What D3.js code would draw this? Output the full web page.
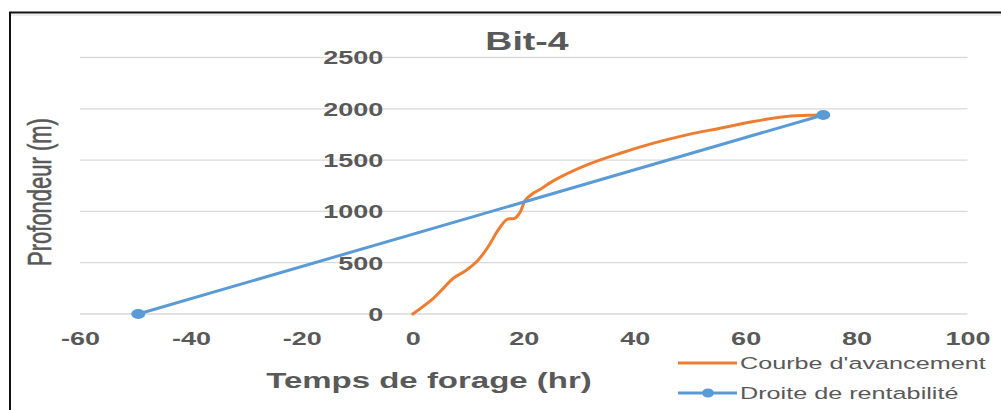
<!DOCTYPE html>
<html>
<head>
<meta charset="utf-8">
<script src="https://cdn.jsdelivr.net/npm/d3@7"></script>
<style>
  html, body { margin: 0; padding: 0; background: #fff; }
  svg { display: block; }
  text { font-family: "Liberation Sans", Arial, sans-serif; fill: #595959; }
</style>
</head>
<body>
<svg id="chart" width="1001" height="410"></svg>
<script>
// Courbe d'avancement (temps de forage, profondeur)
const curveHours = [0, 3.7, 5.5, 7.3, 9.7, 11.8, 13.6, 15.4, 17.0, 18.4, 19.4, 20.3, 21.7, 23.0, 25.4, 31.4, 37.4, 43.4, 49.4, 55.4, 61.4, 67.4, 72.2, 74.0];
const curveDepth = [0, 153, 250, 348, 429, 527, 657, 819, 924, 933, 998, 1112, 1177, 1216, 1300, 1453, 1567, 1665, 1746, 1811, 1876, 1925, 1938, 1940];

// Droite de rentabilité
const lineHours = [-49.5, 74.0];
const lineDepth = [0, 1940];

// Axis ticks
const xTicks = [-60, -40, -20, 0, 20, 40, 60, 80, 100];
const yTicks = [0, 500, 1000, 1500, 2000, 2500];

const seriesNames = ["Courbe d'avancement", "Droite de rentabilité"];
const titleText = "Bit-4";
const xTitle = "Temps de forage (hr)";
const yTitle = "Profondeur (m)";

const ORANGE = "#ED7D31";
const BLUE = "#5B9BD5";
const GRID = "#D9D9D9";
const SX = 1.5; // wide letterforms

const svg = d3.select("#chart");

const x = d3.scaleLinear().domain([-60, 100]).range([80, 967.5]);
const y = d3.scaleLinear().domain([0, 2500]).range([314, 57.5]);

// outer frame
svg.append("rect")
  .attr("x", 10).attr("y", 12.5)
  .attr("width", 1100).attr("height", 500)
  .attr("fill", "none").attr("stroke", "#111").attr("stroke-width", 2);
svg.append("line")
  .attr("x1", 11).attr("x2", 1001).attr("y1", 15).attr("y2", 15)
  .attr("stroke", "#ddd").attr("stroke-width", 1.2);

// horizontal gridlines
svg.append("g")
  .selectAll("line")
  .data(yTicks)
  .join("line")
  .attr("x1", x(-60)).attr("x2", x(100))
  .attr("y1", d => y(d)).attr("y2", d => y(d))
  .attr("stroke", GRID).attr("stroke-width", 1.3);

// wide text helper
function wideText(parent, str, px, py, opts = {}) {
  return parent.append("text")
    .attr("transform", `translate(${px},${py}) scale(${SX},1)`)
    .attr("text-anchor", opts.anchor || "start")
    .style("font-size", (opts.size || 16) + "px")
    .style("font-weight", opts.weight || "normal")
    .text(str);
}

const plainNumber = d => String(d);

// x axis labels
const xAxis = d3.axisBottom(x).tickValues(xTicks).tickSize(0).tickPadding(0).tickFormat(plainNumber);
const gx = svg.append("g").attr("transform", `translate(0,${y(0)})`).call(xAxis);
gx.select(".domain").remove();
gx.selectAll("text")
  .attr("y", 31.5).attr("dy", null)
  .attr("transform", `scale(${SX},1)`)
  .attr("fill", "#595959")
  .style("font-family", "Liberation Sans, Arial, sans-serif")
  .style("font-size", "18px").style("font-weight", "bold");

// y axis labels, placed beside x = 0
const yAxis = d3.axisLeft(y).tickValues(yTicks).tickSize(0).tickPadding(0).tickFormat(plainNumber);
const gy = svg.append("g").attr("transform", `translate(${x(0)},0)`).call(yAxis);
gy.select(".domain").remove();
gy.selectAll("text")
  .attr("x", -29.5 / SX).attr("dy", "0.35em")
  .attr("transform", `scale(${SX},1)`)
  .attr("fill", "#595959")
  .style("font-family", "Liberation Sans, Arial, sans-serif")
  .style("font-size", "18px").style("font-weight", "bold");

// series
const curveData = curveHours.map((h, i) => [h, curveDepth[i]]);
const lineData = lineHours.map((h, i) => [h, lineDepth[i]]);

svg.append("path")
  .datum(curveData)
  .attr("fill", "none").attr("stroke", ORANGE).attr("stroke-width", 3)
  .attr("stroke-linejoin", "round").attr("stroke-linecap", "round")
  .attr("d", d3.line().x(d => x(d[0])).y(d => y(d[1])).curve(d3.curveCatmullRom.alpha(0.5)));

svg.append("path")
  .datum(lineData)
  .attr("fill", "none").attr("stroke", BLUE).attr("stroke-width", 3)
  .attr("d", d3.line().x(d => x(d[0])).y(d => y(d[1])));

svg.append("g")
  .selectAll("ellipse")
  .data(lineData)
  .join("ellipse")
  .attr("cx", d => x(d[0])).attr("cy", d => y(d[1]))
  .attr("rx", 7).attr("ry", 5)
  .attr("fill", BLUE);

// titles
wideText(svg, titleText, 527, 50, { anchor: "middle", size: 25, weight: "bold" });
wideText(svg, xTitle, 429, 388, { anchor: "middle", size: 22, weight: "bold" });
svg.append("text")
  .attr("transform", `translate(39,192) scale(${SX},1) rotate(-90)`)
  .attr("text-anchor", "middle")
  .attr("dy", "0.35em")
  .style("font-size", "22px")
  .style("stroke", "#595959").style("stroke-width", 0.4)
  .text(yTitle);

// legend
const legend = svg.append("g");
legend.append("line")
  .attr("x1", 678).attr("x2", 737).attr("y1", 363).attr("y2", 363)
  .attr("stroke", ORANGE).attr("stroke-width", 3);
wideText(legend, seriesNames[0], 740, 369, { size: 16.8 });
legend.append("line")
  .attr("x1", 678).attr("x2", 737).attr("y1", 393).attr("y2", 393)
  .attr("stroke", BLUE).attr("stroke-width", 3);
legend.append("ellipse")
  .attr("cx", 708).attr("cy", 393).attr("rx", 6).attr("ry", 4.5)
  .attr("fill", BLUE);
wideText(legend, seriesNames[1], 740, 399, { size: 16.8 });
</script>
</body>
</html>
